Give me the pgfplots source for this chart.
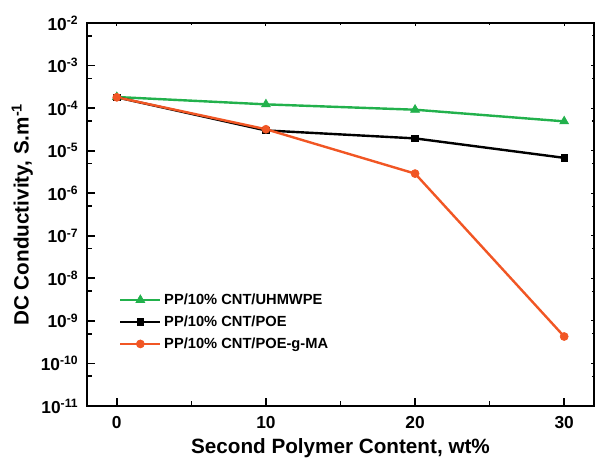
\documentclass[border=0pt]{standalone}
\usepackage{pgfplots}
\pgfplotsset{compat=1.18}
\usepackage{fontspec}
\setmainfont{Liberation Sans}
\definecolor{cgreen}{RGB}{34,177,76}
\definecolor{corange}{RGB}{241,86,36}
\begin{document}
\begin{tikzpicture}
\begin{axis}[
  name=ax,
  scale only axis, width=380pt, height=287pt,
  ymode=log, xmin=-2, xmax=32, ymin=1e-11, ymax=1e-2,
  xtick={0,10,20,30}, minor xtick={5,15,25},
  ytick={1e-11,1e-10,1e-9,1e-8,1e-7,1e-6,1e-5,1e-4,1e-3,1e-2},
  yticklabels={10\textsuperscript{-11},10\textsuperscript{-10},10\textsuperscript{-9},10\textsuperscript{-8},10\textsuperscript{-7},10\textsuperscript{-6},10\textsuperscript{-5},10\textsuperscript{-4},10\textsuperscript{-3},10\textsuperscript{-2}},
  minor ytick={5e-11,5e-10,5e-9,5e-8,5e-7,5e-6,5e-5,5e-4,5e-3},
  xtick pos=bottom, ytick pos=left,
  tick align=inside,
  major tick length=6pt, minor tick length=4pt,
  every tick/.style={line width=1.3pt, black},
  axis line style={line width=1.8pt},
  tick label style={font=\fontsize{13}{15}\selectfont\bfseries},
  /pgf/number format/assume math mode=true,
  xlabel={Second Polymer Content, wt\%},
  ylabel={DC Conductivity, S.m\textsuperscript{-1}},
  label style={font=\fontsize{15.5}{17}\selectfont\bfseries},
  xlabel style={yshift=-1pt},
  ylabel style={yshift=-1pt},
  xticklabel style={yshift=-4pt},
  yticklabel style={xshift=-3pt},
  legend style={draw=none, fill=none, at={(0.055,0.308)}, anchor=north west,
    font=\fontsize{11}{12.5}\selectfont\bfseries, row sep=3pt},
  legend cell align=left,
  legend image code/.code={\draw[mark repeat=2,mark phase=2] plot coordinates {(0pt,0pt) (15pt,0pt) (30pt,0pt)};},
]
\addplot[cgreen, line width=1.8pt, mark=triangle*, mark size=3.8pt, mark options={solid, line width=0.5pt}] coordinates {(0,1.83e-4) (10,1.23e-4) (20,9.2e-5) (30,4.9e-5)};
\addlegendentry{PP/10\% CNT/UHMWPE}
\addplot[black, line width=1.8pt, mark=square*, mark size=2.5pt, mark options={line width=0.5pt}] coordinates {(0,1.8e-4) (10,3.0e-5) (20,1.95e-5) (30,6.8e-6)};
\addlegendentry{PP/10\% CNT/POE}
\addplot[corange, line width=1.8pt, mark=*, mark size=3pt, mark options={line width=0.5pt}] coordinates {(0,1.8e-4) (10,3.2e-5) (20,2.9e-6) (30,4.3e-10)};
\addlegendentry{PP/10\% CNT/POE-g-MA}
\end{axis}
\begin{axis}[
  scale only axis, width=380pt, height=287pt,
  ymode=log, xmin=-2, xmax=32, ymin=1e-11, ymax=1e-2,
  xtick={0,10,20,30}, minor xtick={5,15,25},
  ytick={1e-11,1e-10,1e-9,1e-8,1e-7,1e-6,1e-5,1e-4,1e-3,1e-2},
  minor ytick={5e-11,5e-10,5e-9,5e-8,5e-7,5e-6,5e-5,5e-4,5e-3},
  xtick pos=top, ytick pos=right, tick align=inside,
  xticklabels={}, yticklabels={},
  major tick length=2.5pt, minor tick length=1.5pt,
  every tick/.style={line width=0.8pt, black},
  axis line style={line width=1.8pt},
]
\end{axis}
\pgfresetboundingbox
\path (ax.south west) ++(-65.2pt,-42.7pt) rectangle ++(449.7pt,347pt);
\end{tikzpicture}
\end{document}
